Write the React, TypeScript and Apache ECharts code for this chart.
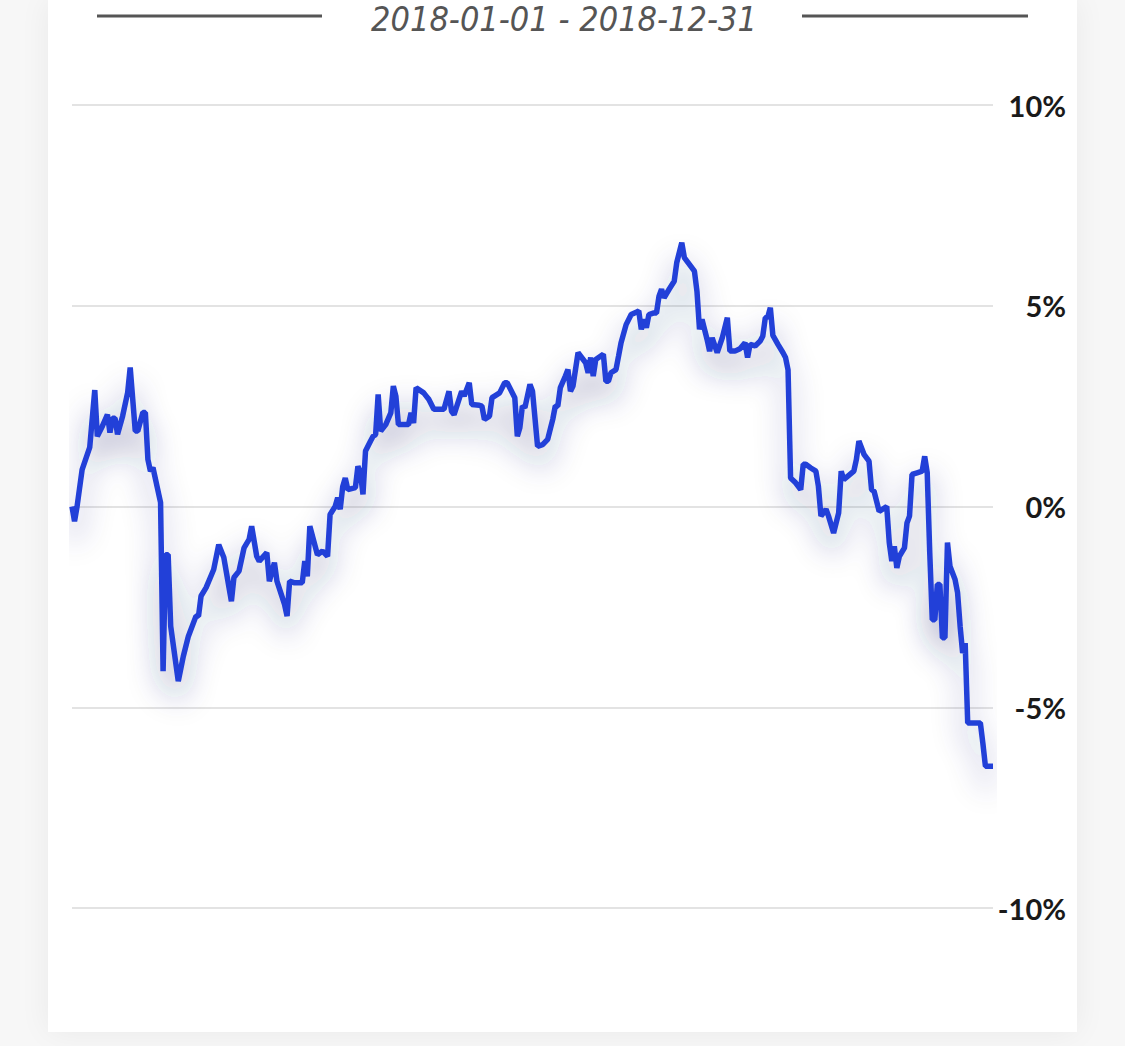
import React, { useEffect, useRef } from "react";
import * as echarts from "echarts";

const titleText = "2018-01-01 - 2018-12-31";
const yTicks = [-10, -5, 0, 5, 10];

// day of year (0 = 2018-01-01)
const days = [
  0, 1, 2, 4, 7, 9, 10, 12, 14, 15, 16, 17, 18, 20, 22, 23, 25, 26, 28, 29, 30, 31, 32, 35, 36, 37, 38, 39, 42, 44,
  46, 49, 50, 51, 53, 56, 58, 60, 63, 64, 66, 68, 70, 71, 73, 74, 77, 78, 80, 81, 84, 85, 86, 88, 91, 92, 93, 94, 97, 99,
  101, 102, 104, 105, 106, 107, 108, 109, 112, 113, 114, 115, 116, 118, 119, 120, 121, 122, 124, 126, 127, 128, 129, 132, 133, 134, 135, 136, 139, 140,
  141, 143, 147, 149, 150, 151, 154, 155, 157, 158, 161, 162, 163, 165, 166, 167, 169, 171, 172, 175, 176, 177, 178, 179, 181, 182, 184, 186, 188, 190,
  191, 192, 193, 195, 196, 197, 198, 200, 203, 204, 205, 206, 207, 210, 211, 212, 213, 215, 216, 217, 219, 221, 223, 224, 225, 226, 227, 228, 230, 231,
  232, 233, 234, 236, 238, 239, 241, 242, 244, 246, 247, 248, 249, 251, 252, 253, 255, 257, 259, 260, 262, 264, 266, 267, 268, 270, 272, 273, 274, 275,
  276, 277, 279, 281, 282, 283, 284, 286, 288, 289, 290, 292, 294, 295, 296, 298, 299, 301, 303, 304, 305, 309, 310, 311, 313, 315, 316, 317, 319, 322,
  323, 324, 325, 326, 327, 329, 330, 331, 332, 334, 336, 337, 338, 339, 340, 341, 342, 343, 344, 345, 346, 347, 349, 350, 351, 352, 353, 354, 359, 360,
  361, 364,
];

// cumulative return, %
const returns = [
  0.0, -0.37, 0.0, 0.92, 1.47, 2.9, 1.75, 2.0, 2.29, 1.84, 2.2, 2.2, 1.8, 2.25, 2.84, 3.46, 1.88, 1.88, 2.34, 2.34, 1.17, 0.88, 0.97, 0.1, -4.1, -1.2, -1.2, -2.98, -4.35, -3.73,
  -3.23, -2.73, -2.73, -2.23, -2.02, -1.57, -0.95, -1.27, -2.36, -1.77, -1.61, -1.03, -0.82, -0.49, -1.24, -1.36, -1.15, -1.86, -1.4, -1.86, -2.44, -2.73, -1.86, -1.9, -1.9, -1.36, -1.74, -0.49, -1.2, -1.11,
  -1.24, -0.2, 0.0, 0.22, -0.07, 0.5, 0.71, 0.42, 0.47, 1.0, 0.84, 0.3, 1.38, 1.63, 1.75, 1.79, 2.79, 1.88, 2.04, 2.33, 3.0, 2.75, 2.04, 2.04, 2.04, 2.33, 2.08, 2.96, 2.83, 2.75,
  2.67, 2.42, 2.42, 2.87, 2.37, 2.29, 2.87, 2.75, 3.08, 2.54, 2.52, 2.5, 2.17, 2.25, 2.71, 2.75, 2.83, 3.08, 3.08, 2.71, 1.75, 1.96, 2.5, 2.46, 3.04, 2.87, 1.5, 1.54, 1.67, 2.17,
  2.5, 2.5, 2.96, 3.25, 3.41, 2.87, 3.0, 3.83, 3.58, 3.33, 3.71, 3.25, 3.66, 3.79, 3.12, 3.12, 3.33, 3.41, 3.74, 4.08, 4.53, 4.78, 4.84, 4.87, 4.41, 4.66, 4.45, 4.78, 4.82, 4.82,
  5.24, 5.41, 5.2, 5.41, 5.61, 6.07, 6.57, 6.2, 6.03, 5.86, 5.36, 4.41, 4.66, 4.16, 3.87, 4.2, 3.83, 4.2, 4.7, 3.87, 3.87, 3.93, 4.08, 3.71, 4.04, 4.0, 4.12, 4.24, 4.7, 4.72,
  4.95, 4.26, 4.04, 3.83, 3.71, 3.4, 0.71, 0.59, 0.42, 1.05, 1.05, 0.96, 0.88, 0.5, -0.24, -0.07, -0.24, -0.66, -0.16, 0.88, 0.67, 0.88, 1.17, 1.63, 1.3, 1.13, 0.42, 0.38, -0.12, 0.0,
  -0.9, -1.36, -0.99, -1.53, -1.24, -1.03, -0.41, -0.24, 0.8, 0.84, 0.88, 1.25, 0.84, -1.15, -2.82, -2.82, -1.94, -1.94, -3.27, -3.27, -0.9, -1.49, -1.82, -2.15, -2.98, -3.65, -3.4, -5.39, -5.39, -5.9,
  -6.47, -6.47,
];

export default function App() {
  const ref = useRef<HTMLDivElement>(null);

  useEffect(() => {
    if (!ref.current) return;
    const chart = echarts.init(ref.current, undefined, { renderer: "svg" });
    const data = days.map((d, i) => [d, returns[i]]);
    chart.setOption({
      animation: false,
      grid: { left: 72, right: 132, top: 105, bottom: 138, containLabel: false },
      graphic: [
        { type: "line", shape: { x1: 97, y1: 16, x2: 322, y2: 16 }, style: { stroke: "#555555", lineWidth: 3 } },
        { type: "line", shape: { x1: 802, y1: 16, x2: 1028, y2: 16 }, style: { stroke: "#555555", lineWidth: 3 } },
        {
          type: "text",
          x: 564,
          y: 2,
          style: {
            text: titleText,
            fill: "#555555",
            font: "italic 34px 'Liberation Sans Narrow', 'DejaVu Sans Condensed', sans-serif",
            textAlign: "center",
            textVerticalAlign: "top",
          },
        },
      ],
      xAxis: {
        type: "value",
        min: 0,
        max: 364,
        show: false,
      },
      yAxis: {
        type: "value",
        position: "right",
        min: yTicks[0],
        max: yTicks[yTicks.length - 1],
        interval: 5,
        axisLine: { show: false },
        axisTick: { show: false },
        splitLine: { lineStyle: { color: "#e3e3e3", width: 2 } },
        axisLabel: {
          formatter: "{value}%",
          align: "right",
          margin: 73,
          color: "#1a1a1a",
          fontSize: 29,
          fontWeight: "bold",
          fontFamily: "Lato",
        },
      },
      series: [
        {
          type: "line",
          data,
          showSymbol: false,
          lineStyle: {
            color: "#2340d8",
            width: 5.5,
            shadowColor: "rgba(35,45,110,0.42)",
            shadowBlur: 30,
            shadowOffsetY: 18,
          },
          itemStyle: { color: "#2340d8" },
        },
      ],
    });
    return () => chart.dispose();
  }, []);

  return (
    <div style={{ position: "absolute", left: 0, top: 0, width: 1125, height: 1046, background: "#f7f7f7", overflow: "hidden" }}>
      <div
        style={{
          position: "absolute",
          left: 48,
          top: 0,
          width: 1029,
          height: 1032,
          background: "#ffffff",
          boxShadow: "0 0 30px rgba(0,0,0,0.06)",
        }}
      />
      <div ref={ref} style={{ position: "absolute", left: 0, top: 0, width: 1125, height: 1046 }} />
    </div>
  );
}
